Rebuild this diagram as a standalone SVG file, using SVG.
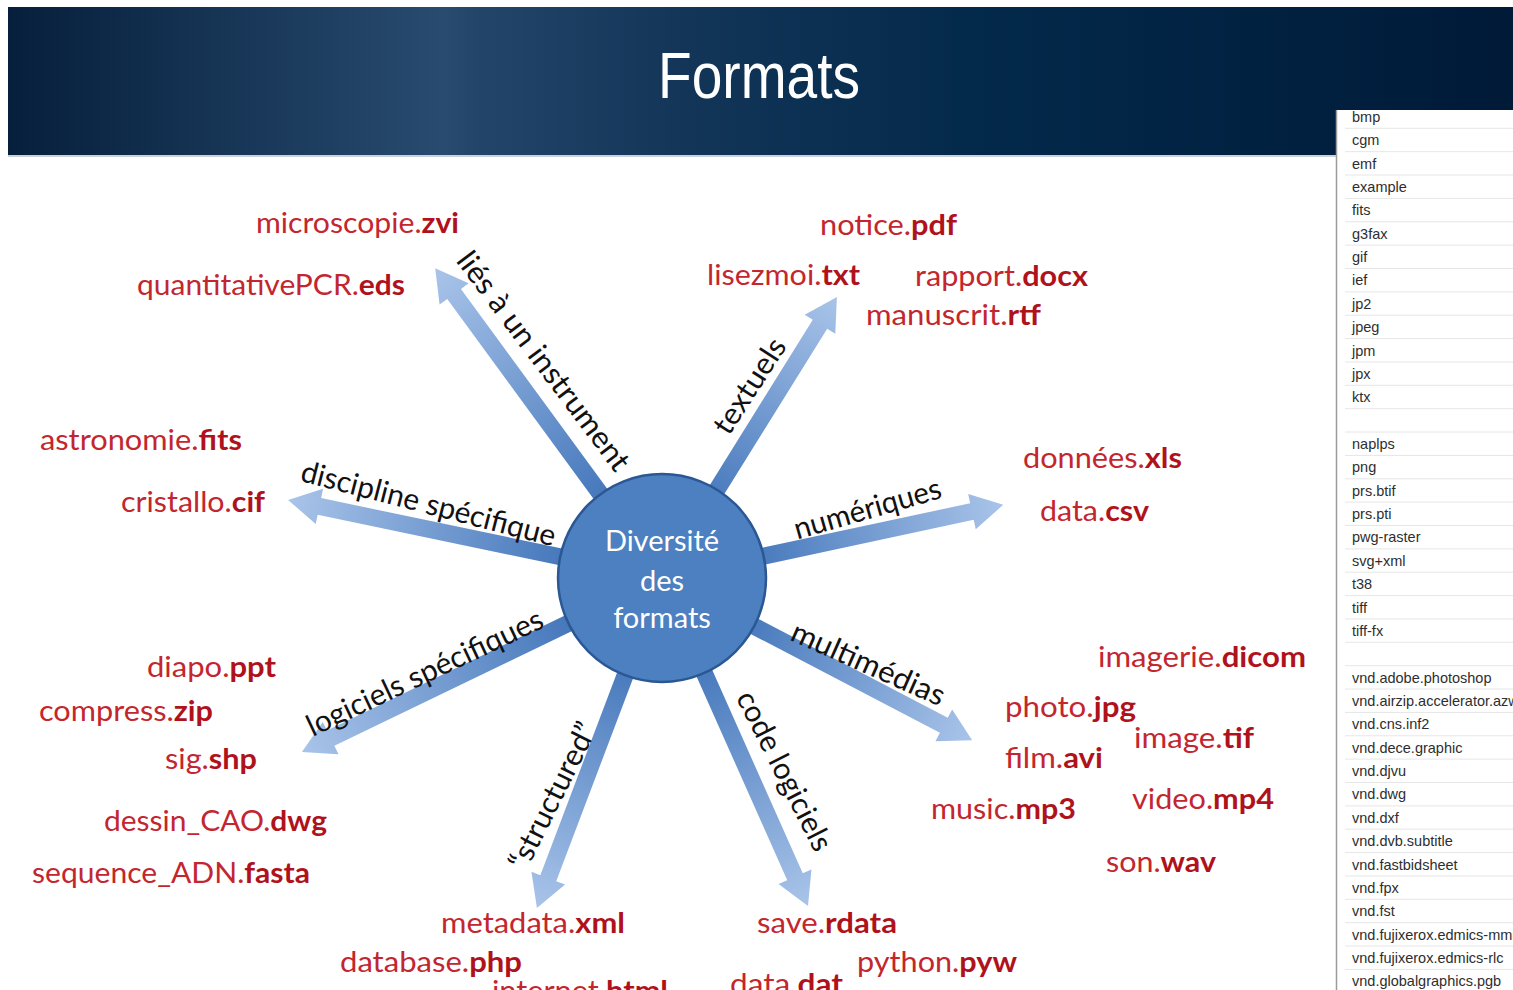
<svg xmlns="http://www.w3.org/2000/svg" width="1513" height="990" viewBox="0 0 1513 990">
<defs>
<linearGradient id="hdr" x1="0" y1="0" x2="1" y2="0">
<stop offset="0" stop-color="#061f3c"/>
<stop offset="0.29" stop-color="#284b6f"/>
<stop offset="0.31" stop-color="#234569"/>
<stop offset="0.45" stop-color="#123558"/>
<stop offset="0.65" stop-color="#03294a"/>
<stop offset="1" stop-color="#001a38"/>
</linearGradient>
<linearGradient id="ag" x1="0" y1="0" x2="1" y2="0">
<stop offset="0" stop-color="#2f5e9e"/>
<stop offset="0.3" stop-color="#4b7cbe"/>
<stop offset="1" stop-color="#a9c4e9"/>
</linearGradient>
<clipPath id="pc"><rect x="1336" y="110" width="177" height="880"/></clipPath>
<style>
.lbl{font-family:Lato,"Liberation Sans",sans-serif;font-size:30px;fill:#111;text-anchor:middle;dominant-baseline:central}
.ex{font-family:Lato,"Liberation Sans",sans-serif;font-size:29px;fill:#c3262e}
.ex tspan{font-weight:bold;fill:#b0121c}
.li{font-family:"Liberation Sans",Arial,sans-serif;font-size:14.5px;fill:#2e2e2e}
.sep{stroke:#e6e6e6;stroke-width:1}
.ctr{font-family:Lato,"Liberation Sans",sans-serif;font-size:29px;fill:#fff;text-anchor:middle}
.arr{fill:url(#ag)}
</style>
</defs>
<rect width="1513" height="990" fill="#fff"/>
<g id="header">
<rect x="8" y="7" width="1505" height="148" fill="url(#hdr)"/>
<rect x="8" y="155" width="1505" height="2" fill="#c9d2dc"/>
<text x="759" y="98" font-family="Liberation Sans,Arial,sans-serif" font-size="64" fill="#fff" text-anchor="middle" textLength="202" lengthAdjust="spacingAndGlyphs">Formats</text>
</g>
<g id="mime-list">
<rect x="1336" y="110" width="177" height="880" fill="#fff"/>
<line x1="1336.5" y1="110" x2="1336.5" y2="990" stroke="#9c9c9c" stroke-width="1.5"/>
<g clip-path="url(#pc)">
<g class="sep">
<line x1="1345" y1="128.3" x2="1513" y2="128.3"/><line x1="1345" y1="151.7" x2="1513" y2="151.7"/><line x1="1345" y1="175" x2="1513" y2="175"/><line x1="1345" y1="198.4" x2="1513" y2="198.4"/><line x1="1345" y1="221.8" x2="1513" y2="221.8"/><line x1="1345" y1="245.1" x2="1513" y2="245.1"/><line x1="1345" y1="268.5" x2="1513" y2="268.5"/><line x1="1345" y1="291.9" x2="1513" y2="291.9"/><line x1="1345" y1="315.2" x2="1513" y2="315.2"/><line x1="1345" y1="338.6" x2="1513" y2="338.6"/><line x1="1345" y1="362" x2="1513" y2="362"/><line x1="1345" y1="385.3" x2="1513" y2="385.3"/><line x1="1345" y1="408.7" x2="1513" y2="408.7"/><line x1="1345" y1="432" x2="1513" y2="432"/><line x1="1345" y1="455.4" x2="1513" y2="455.4"/><line x1="1345" y1="478.8" x2="1513" y2="478.8"/><line x1="1345" y1="502.1" x2="1513" y2="502.1"/><line x1="1345" y1="525.5" x2="1513" y2="525.5"/><line x1="1345" y1="548.9" x2="1513" y2="548.9"/><line x1="1345" y1="572.2" x2="1513" y2="572.2"/><line x1="1345" y1="595.6" x2="1513" y2="595.6"/><line x1="1345" y1="619" x2="1513" y2="619"/><line x1="1345" y1="642.3" x2="1513" y2="642.3"/><line x1="1345" y1="665.7" x2="1513" y2="665.7"/><line x1="1345" y1="689" x2="1513" y2="689"/><line x1="1345" y1="712.4" x2="1513" y2="712.4"/><line x1="1345" y1="735.8" x2="1513" y2="735.8"/><line x1="1345" y1="759.1" x2="1513" y2="759.1"/><line x1="1345" y1="782.5" x2="1513" y2="782.5"/><line x1="1345" y1="805.9" x2="1513" y2="805.9"/><line x1="1345" y1="829.2" x2="1513" y2="829.2"/><line x1="1345" y1="852.6" x2="1513" y2="852.6"/><line x1="1345" y1="876" x2="1513" y2="876"/><line x1="1345" y1="899.3" x2="1513" y2="899.3"/><line x1="1345" y1="922.7" x2="1513" y2="922.7"/><line x1="1345" y1="946" x2="1513" y2="946"/><line x1="1345" y1="969.4" x2="1513" y2="969.4"/>
</g>
<g class="li">
<text x="1352" y="121.8">bmp</text>
<text x="1352" y="145.2">cgm</text>
<text x="1352" y="168.6">emf</text>
<text x="1352" y="191.9">example</text>
<text x="1352" y="215.3">fits</text>
<text x="1352" y="238.7">g3fax</text>
<text x="1352" y="262">gif</text>
<text x="1352" y="285.4">ief</text>
<text x="1352" y="308.8">jp2</text>
<text x="1352" y="332.1">jpeg</text>
<text x="1352" y="355.5">jpm</text>
<text x="1352" y="378.8">jpx</text>
<text x="1352" y="402.2">ktx</text>
<text x="1352" y="448.9">naplps</text>
<text x="1352" y="472.3">png</text>
<text x="1352" y="495.7">prs.btif</text>
<text x="1352" y="519">prs.pti</text>
<text x="1352" y="542.4">pwg-raster</text>
<text x="1352" y="565.8">svg+xml</text>
<text x="1352" y="589.1">t38</text>
<text x="1352" y="612.5">tiff</text>
<text x="1352" y="635.8">tiff-fx</text>
<text x="1352" y="682.6">vnd.adobe.photoshop</text>
<text x="1352" y="705.9">vnd.airzip.accelerator.azw</text>
<text x="1352" y="729.3">vnd.cns.inf2</text>
<text x="1352" y="752.7">vnd.dece.graphic</text>
<text x="1352" y="776">vnd.djvu</text>
<text x="1352" y="799.4">vnd.dwg</text>
<text x="1352" y="822.7">vnd.dxf</text>
<text x="1352" y="846.1">vnd.dvb.subtitle</text>
<text x="1352" y="869.5">vnd.fastbidsheet</text>
<text x="1352" y="892.8">vnd.fpx</text>
<text x="1352" y="916.2">vnd.fst</text>
<text x="1352" y="939.6">vnd.fujixerox.edmics-mmr</text>
<text x="1352" y="962.9">vnd.fujixerox.edmics-rlc</text>
<text x="1352" y="986.3">vnd.globalgraphics.pgb</text>
</g>
</g>
</g>
<g id="connectors">
<path class="arr" transform="translate(662 578) rotate(-126.2)" d="M0,-8.5 H352 V-18 L384,0 L352,18 V8.5 H0 Z"/>
<path class="arr" transform="translate(662 578) rotate(-58.1)" d="M0,-8.5 H299 V-18 L331,0 L299,18 V8.5 H0 Z"/>
<path class="arr" transform="translate(662 578) rotate(-12.1)" d="M0,-8.5 H317 V-18 L349,0 L317,18 V8.5 H0 Z"/>
<path class="arr" transform="translate(662 578) rotate(27.6)" d="M0,-8.5 H318 V-18 L350,0 L318,18 V8.5 H0 Z"/>
<path class="arr" transform="translate(662 578) rotate(66)" d="M0,-8.5 H327 V-18 L359,0 L327,18 V8.5 H0 Z"/>
<path class="arr" transform="translate(662 578) rotate(110.75)" d="M0,-8.5 H321 V-18 L353,0 L321,18 V8.5 H0 Z"/>
<path class="arr" transform="translate(662 578) rotate(154.2)" d="M0,-8.5 H368 V-18 L400,0 L368,18 V8.5 H0 Z"/>
<path class="arr" transform="translate(662 578) rotate(-168.2)" d="M0,-8.5 H350 V-18 L382,0 L350,18 V8.5 H0 Z"/>
</g>
<g id="center">
<circle cx="662" cy="578" r="104" fill="#4d80c0" stroke="#2b5894" stroke-width="2.5"/>
<text class="ctr" x="662" y="551">Diversité</text>
<text class="ctr" x="662" y="591">des</text>
<text class="ctr" x="662" y="628">formats</text>
</g>
<g id="branch-labels">
<text class="lbl" transform="translate(545 360) rotate(53)" textLength="266" lengthAdjust="spacingAndGlyphs">liés à un instrument</text>
<text class="lbl" transform="translate(748 385) rotate(-57)" textLength="108" lengthAdjust="spacingAndGlyphs">textuels</text>
<text class="lbl" transform="translate(867 507) rotate(-16)" textLength="152" lengthAdjust="spacingAndGlyphs">numériques</text>
<text class="lbl" transform="translate(869 662) rotate(24)" textLength="165" lengthAdjust="spacingAndGlyphs">multimédias</text>
<text class="lbl" transform="translate(786 770) rotate(63)" textLength="175" lengthAdjust="spacingAndGlyphs">code logiciels</text>
<text class="lbl" transform="translate(551 795) rotate(-63.4)" textLength="160" lengthAdjust="spacingAndGlyphs">“structured”</text>
<text class="lbl" transform="translate(424 671) rotate(-25.3)" textLength="258" lengthAdjust="spacingAndGlyphs">logiciels spécifiques</text>
<text class="lbl" transform="translate(429 502) rotate(14.5)" textLength="262" lengthAdjust="spacingAndGlyphs">discipline spécifique</text>
</g>
<g id="examples" class="ex">
<text x="256" y="233" textLength="203" lengthAdjust="spacingAndGlyphs">microscopie.<tspan>zvi</tspan></text>
<text x="137" y="295" textLength="268" lengthAdjust="spacingAndGlyphs">quantitativePCR.<tspan>eds</tspan></text>
<text x="820" y="235" textLength="137" lengthAdjust="spacingAndGlyphs">notice.<tspan>pdf</tspan></text>
<text x="707" y="285" textLength="153" lengthAdjust="spacingAndGlyphs">lisezmoi.<tspan>txt</tspan></text>
<text x="915" y="286" textLength="173" lengthAdjust="spacingAndGlyphs">rapport.<tspan>docx</tspan></text>
<text x="866" y="325" textLength="175" lengthAdjust="spacingAndGlyphs">manuscrit.<tspan>rtf</tspan></text>
<text x="40" y="450" textLength="202" lengthAdjust="spacingAndGlyphs">astronomie.<tspan>fits</tspan></text>
<text x="121" y="512" textLength="144" lengthAdjust="spacingAndGlyphs">cristallo.<tspan>cif</tspan></text>
<text x="1023" y="468" textLength="159" lengthAdjust="spacingAndGlyphs">données.<tspan>xls</tspan></text>
<text x="1040" y="521" textLength="109" lengthAdjust="spacingAndGlyphs">data.<tspan>csv</tspan></text>
<text x="1098" y="667" textLength="208" lengthAdjust="spacingAndGlyphs">imagerie.<tspan>dicom</tspan></text>
<text x="1005" y="717" textLength="131" lengthAdjust="spacingAndGlyphs">photo.<tspan>jpg</tspan></text>
<text x="1134" y="748" textLength="120" lengthAdjust="spacingAndGlyphs">image.<tspan>tif</tspan></text>
<text x="1005" y="768" textLength="98" lengthAdjust="spacingAndGlyphs">film.<tspan>avi</tspan></text>
<text x="1132" y="809" textLength="142" lengthAdjust="spacingAndGlyphs">video.<tspan>mp4</tspan></text>
<text x="931" y="819" textLength="145" lengthAdjust="spacingAndGlyphs">music.<tspan>mp3</tspan></text>
<text x="1106" y="872" textLength="110" lengthAdjust="spacingAndGlyphs">son.<tspan>wav</tspan></text>
<text x="147" y="677" textLength="129" lengthAdjust="spacingAndGlyphs">diapo.<tspan>ppt</tspan></text>
<text x="39" y="721" textLength="174" lengthAdjust="spacingAndGlyphs">compress.<tspan>zip</tspan></text>
<text x="165" y="769" textLength="92" lengthAdjust="spacingAndGlyphs">sig.<tspan>shp</tspan></text>
<text x="104" y="831" textLength="223" lengthAdjust="spacingAndGlyphs">dessin_CAO.<tspan>dwg</tspan></text>
<text x="32" y="883" textLength="278" lengthAdjust="spacingAndGlyphs">sequence_ADN.<tspan>fasta</tspan></text>
<text x="441" y="933" textLength="184" lengthAdjust="spacingAndGlyphs">metadata.<tspan>xml</tspan></text>
<text x="340" y="972" textLength="182" lengthAdjust="spacingAndGlyphs">database.<tspan>php</tspan></text>
<text x="492" y="1001" textLength="176" lengthAdjust="spacingAndGlyphs">internet.<tspan>html</tspan></text>
<text x="757" y="933" textLength="140" lengthAdjust="spacingAndGlyphs">save.<tspan>rdata</tspan></text>
<text x="857" y="972" textLength="160" lengthAdjust="spacingAndGlyphs">python.<tspan>pyw</tspan></text>
<text x="730" y="994" textLength="113" lengthAdjust="spacingAndGlyphs">data.<tspan>dat</tspan></text>
</g>
</svg>
